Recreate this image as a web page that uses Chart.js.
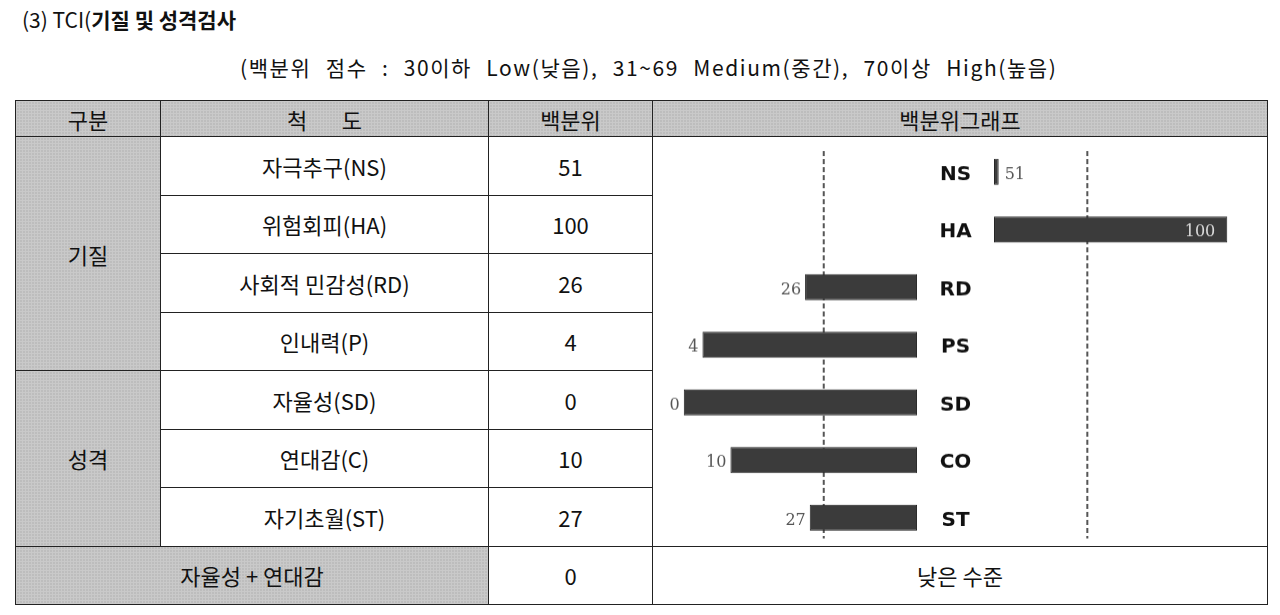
<!DOCTYPE html>
<html><head><meta charset="utf-8">
<script src="https://cdn.jsdelivr.net/npm/chart.js@4"></script>
<style>
body{margin:0;width:1280px;height:615px;background:#fff;font-family:"Noto Sans CJK KR","Noto Sans",sans-serif;color:#111;position:relative;overflow:hidden}
#title{position:absolute;left:22px;top:4px;font-size:21px;font-weight:bold}
#sub{position:absolute;left:240px;top:52px;font-size:21px;letter-spacing:1.6px;word-spacing:8px}
table{position:absolute;left:15px;top:100px;border-collapse:collapse;table-layout:fixed}
td{border:1.5px solid #222;text-align:center;font-size:22px;padding:0}
.g{background:#c9c9c9;background-image:radial-gradient(#999 0.6px,transparent 0.8px);background-size:3px 3px}
tr.h td{height:35px}
tr.r td{height:57.5px}
</style></head><body>
<div id="title"><span style="font-weight:normal">(3) TCI(</span>기질 및 성격검사</div>
<div id="sub">(백분위 점수 : 30이하 Low(낮음), 31~69 Medium(중간), 70이상 High(높음)</div>
<table>
<colgroup><col style="width:145px"><col style="width:328px"><col style="width:164px"><col style="width:615px"></colgroup>
<tbody id="tb"></tbody>
</table>
<script>
const groups = ['기질', '성격'];
const scales = ['자극추구(NS)', '위험회피(HA)', '사회적 민감성(RD)', '인내력(P)', '자율성(SD)', '연대감(C)', '자기초월(ST)'];
const codes = ['NS', 'HA', 'RD', 'PS', 'SD', 'CO', 'ST'];
const percentiles = [51, 100, 26, 4, 0, 10, 27];
const sumLabel = '자율성 + 연대감';
const sumValue = 0;
const sumLevel = '낮은 수준';

const tb = document.getElementById('tb');
let html = '<tr class="h"><td class="g">구분</td><td class="g">척&nbsp;&nbsp;&nbsp;&nbsp;&nbsp;&nbsp;&nbsp;도</td><td class="g">백분위</td><td class="g">백분위그래프</td></tr>';
scales.forEach((s, i) => {
  html += '<tr class="r">';
  if (i === 0) html += '<td class="g" rowspan="4">' + groups[0] + '</td>';
  if (i === 4) html += '<td class="g" rowspan="3">' + groups[1] + '</td>';
  html += '<td>' + s + '</td><td>' + percentiles[i] + '</td>';
  if (i === 0) html += '<td rowspan="7" style="position:relative"><div style="position:absolute;left:0;top:0;width:613px;height:100%"><canvas id="c"></canvas></div></td>';
  html += '</tr>';
});
html += '<tr class="r"><td class="g" colspan="2">' + sumLabel + '</td><td>' + sumValue + '</td><td>' + sumLevel + '</td></tr>';
tb.innerHTML = html;

const GAP = 16.5;
const bars = percentiles.map(v => v < 50 ? [v, 50] : [50 + GAP, v + GAP]);

const deco = {
  id: 'deco',
  beforeDatasetsDraw(chart) {
    const {ctx, chartArea: a, scales: {x}} = chart;
    ctx.save();
    ctx.strokeStyle = '#555'; ctx.lineWidth = 2; ctx.setLineDash([5, 3]);
    [30, 70 + GAP].forEach(v => {
      const px = x.getPixelForValue(v);
      ctx.beginPath(); ctx.moveTo(px, a.top + 8); ctx.lineTo(px, a.bottom - 8); ctx.stroke();
    });
    ctx.restore();
  },
  afterDatasetsDraw(chart) {
    const {ctx, scales: {x}} = chart;
    const meta = chart.getDatasetMeta(0);
    ctx.save();
    ctx.textBaseline = 'middle';
    meta.data.forEach((b, i) => {
      const y = b.y + 3, v = percentiles[i];
      ctx.font = 'bold 20px "DejaVu Sans"'; ctx.fillStyle = '#111'; ctx.textAlign = 'center';
      ctx.fillText(codes[i], x.getPixelForValue(50 + GAP / 2), y);
      ctx.font = '16px "DejaVu Serif"';
      if (v < 50) {
        ctx.fillStyle = '#555'; ctx.textAlign = 'right';
        ctx.fillText(v, x.getPixelForValue(v) - 4, y);
      } else if (v > 85) {
        ctx.fillStyle = '#ddd'; ctx.textAlign = 'right';
        ctx.fillText(v, x.getPixelForValue(v + GAP) - 12, y);
      } else {
        ctx.fillStyle = '#555'; ctx.textAlign = 'left';
        ctx.fillText(v, x.getPixelForValue(v + GAP) + 6, y);
      }
    });
    ctx.restore();
  }
};

new Chart(document.getElementById('c'), {
  type: 'bar',
  data: {labels: codes, datasets: [{data: bars, backgroundColor: '#3b3b3b', borderColor: '#222', borderWidth: 1, borderSkipped: false, barPercentage: 0.45, categoryPercentage: 1}]},
  options: {
    indexAxis: 'y', responsive: true, maintainAspectRatio: false, animation: false,
    layout: {padding: {top: 6, bottom: 0}},
    plugins: {legend: {display: false}, tooltip: {enabled: false}},
    scales: {
      x: {type: 'linear', min: -6.6, max: 124.8, display: false},
      y: {display: false}
    }
  },
  plugins: [deco]
});
</script>
</body></html>
